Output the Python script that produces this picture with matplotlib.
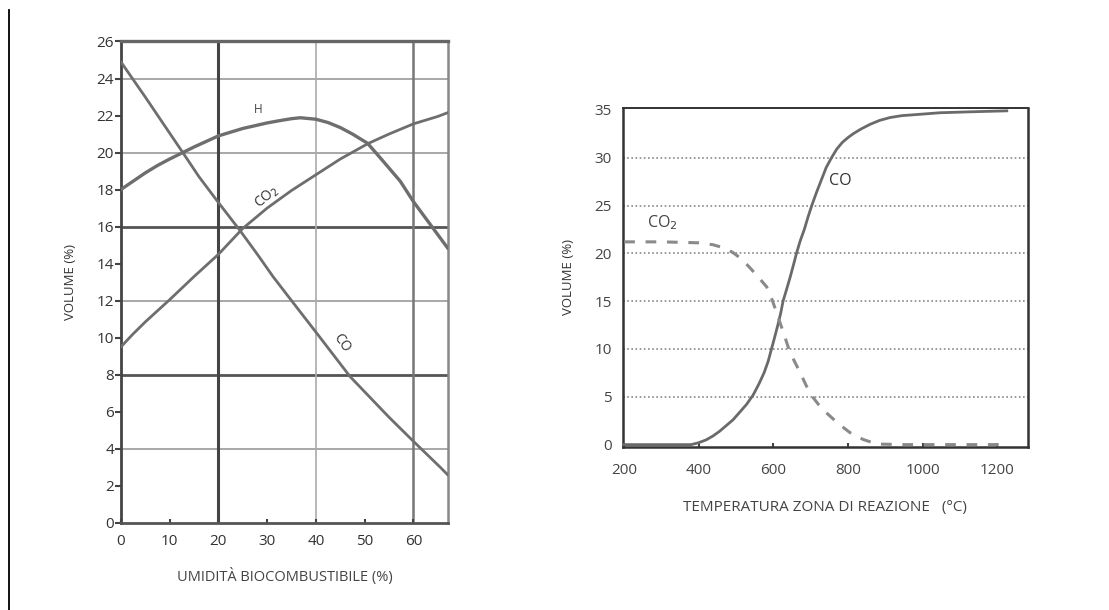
import matplotlib
matplotlib.use('Agg')
import matplotlib.pyplot as plt
from matplotlib.lines import Line2D

plt.rcParams['font.family'] = ['Open Sans', 'DejaVu Sans']

# Left chart: gas volume vs biofuel moisture
moist_H = [0, 2.5, 5, 7.5, 10, 12.7, 15, 17.5, 20, 22.5, 25, 27.5, 30, 32.5, 35, 36.8,
           40, 42.5, 45, 47.5, 50.6, 53.9, 57.3, 60, 63.5, 67]
vol_H = [18.0, 18.45, 18.9, 19.3, 19.65, 20.0, 20.3, 20.6, 20.9, 21.1, 21.3, 21.45, 21.6,
         21.72, 21.83, 21.88, 21.8, 21.62, 21.35, 21.0, 20.5, 19.5, 18.45, 17.35, 16.1, 14.85]

moist_CO = [0, 5, 10, 12.7, 16, 20, 24.4, 28, 31.2, 35, 40, 43.5, 47, 51, 55, 60, 65.5, 67]
vol_CO = [24.9, 23.0, 21.05, 20.0, 18.7, 17.3, 15.8, 14.5, 13.3, 12.0, 10.3, 9.1, 7.9,
          6.8, 5.7, 4.4, 3.0, 2.6]

moist_CO2 = [0, 2.5, 5, 7.5, 10, 15, 20, 25, 30, 35, 40, 45, 50.8, 55, 60, 65, 67]
vol_CO2 = [9.5, 10.2, 10.85, 11.45, 12.05, 13.3, 14.5, 15.9, 17.0, 17.95, 18.8, 19.65,
           20.5, 21.0, 21.55, 21.95, 22.15]

left_yticks = list(range(0, 27, 2))
left_xticks = [0, 10, 20, 30, 40, 50, 60]

# Right chart: gas volume vs reaction zone temperature
temp_CO = [200, 300, 380, 400, 420, 438, 456, 474, 492, 510, 528, 546, 562, 575, 586,
           595, 604, 612, 620, 626, 636, 645, 654, 662, 672, 683, 693, 703, 716, 730,
           742, 756, 770, 785, 800, 814, 835, 860, 885, 913, 945, 980, 1047, 1130, 1226]
vol_CO_t = [0, 0, 0, 0.2, 0.5, 0.9, 1.4, 2.0, 2.6, 3.4, 4.2, 5.2, 6.4, 7.5, 8.7,
            10.0, 11.3, 12.5, 13.8, 15.0, 16.3, 17.5, 18.8, 20.0, 21.3, 22.5, 23.8, 25.0,
            26.4, 27.8, 29.0, 30.0, 30.9, 31.6, 32.1, 32.5, 33.0, 33.5, 33.9, 34.2, 34.4,
            34.5, 34.7, 34.8, 34.9]

temp_CO2 = [200, 300, 400, 438, 465, 491, 515, 537, 560, 582, 598, 613, 628, 644, 658,
            671, 689, 707, 725, 743, 774, 805, 840, 877, 950, 1050, 1226]
vol_CO2_t = [21.2, 21.2, 21.1, 20.9, 20.6, 20.1, 19.4, 18.5, 17.5, 16.5, 15.0, 13.3,
             11.6, 9.7, 8.6, 7.6, 6.1, 4.9, 4.0, 3.3, 2.2, 1.27, 0.55, 0.06, 0.0, 0.0, 0.0]

right_yticks = [0, 5, 10, 15, 20, 25, 30, 35]
right_xticks = [200, 400, 600, 800, 1000, 1200]

fig = plt.figure(figsize=(11.09, 6.10), dpi=100)

# thin frame line on the left of the page
fig.add_artist(Line2D([0.008, 0.008], [0.0, 0.984], color='black', lw=1.3))

# ---------------- left chart
ax1 = fig.add_axes([0.109, 0.143, 0.295, 0.789])
ax1.set_xlim(0, 67.1)
ax1.set_ylim(0, 26)

for y in [4, 12, 20, 24]:
    ax1.axhline(y, color='#9a9a9a', lw=1.2, zorder=1)
for y in [8, 16]:
    ax1.axhline(y, color='#555555', lw=2.0, zorder=1)
ax1.axvline(20, color='#444444', lw=2.2, zorder=1)
ax1.axvline(40, color='#aaaaaa', lw=1.2, zorder=1)
ax1.axvline(60, color='#777777', lw=1.8, zorder=1)

curve_col = '#6e6e6e'
ax1.plot(moist_H, vol_H, color=curve_col, lw=2.4, zorder=3)
ax1.plot(moist_CO, vol_CO, color=curve_col, lw=2.0, zorder=3)
ax1.plot(moist_CO2, vol_CO2, color=curve_col, lw=2.0, zorder=3)

ax1.text(28.1, 22.35, 'H', fontsize=8.5, color='#444444', ha='center', va='center')
ax1.text(30.0, 17.6, 'CO$_2$', fontsize=10, color='#333333', ha='center', va='center', rotation=40)
ax1.text(45.2, 9.7, 'CO', fontsize=10, color='#333333', ha='center', va='center', rotation=-55)

ax1.spines['left'].set_color('#444444')
ax1.spines['left'].set_linewidth(2.0)
ax1.spines['top'].set_color('#666666')
ax1.spines['top'].set_linewidth(2.4)
ax1.spines['right'].set_color('#888888')
ax1.spines['right'].set_linewidth(1.8)
ax1.spines['bottom'].set_color('#555555')
ax1.spines['bottom'].set_linewidth(2.0)

ax1.set_yticks(left_yticks)
ax1.set_xticks(left_xticks)
ax1.tick_params(axis='y', direction='out', length=4, width=1.5, color='#444444',
                labelsize=11, labelcolor='#333333', pad=1)
ax1.tick_params(axis='x', direction='in', length=3, width=1.5, color='#444444',
                labelsize=11, labelcolor='#333333', pad=8)
ax1.set_ylabel('VOLUME (%)', fontsize=9.5, color='#333333', labelpad=14)
ax1.set_xlabel('UMIDITÀ BIOCOMBUSTIBILE (%)', fontsize=10.5, color='#444444', labelpad=14)

# ---------------- right chart
ax2 = fig.add_axes([0.5615, 0.268, 0.3655, 0.555])
ax2.set_xlim(196, 1283)
ax2.set_ylim(-0.2, 35.2)

for y in right_yticks[1:-1]:
    ax2.axhline(y, color='#888888', lw=1.2, ls=(0, (1, 1.5)), zorder=1)

ax2.plot(temp_CO, vol_CO_t, color='#6a6a6a', lw=2.0, zorder=3)
ax2.plot(temp_CO2, vol_CO2_t, color='#8a8a8a', lw=2.2, ls=(0, (3.5, 3.5)), zorder=3)

ax2.text(303, 23.2, 'CO$_2$', fontsize=11.5, color='#444444', ha='center', va='center')
ax2.text(780, 27.6, 'CO', fontsize=11.5, color='#333333', ha='center', va='center')

for s in ax2.spines.values():
    s.set_color('#333333')
    s.set_linewidth(1.8)
ax2.spines['top'].set_linewidth(1.4)

ax2.set_yticks(right_yticks)
ax2.set_xticks(right_xticks)
ax2.tick_params(axis='y', length=0, labelsize=11, labelcolor='#444444', pad=8)
ax2.tick_params(axis='x', direction='in', length=3, width=1.5, color='#444444',
                labelsize=11, labelcolor='#444444', pad=12)
ax2.set_ylabel('VOLUME (%)', fontsize=9.5, color='#333333', labelpad=14)
ax2.set_xlabel('TEMPERATURA ZONA DI REAZIONE   (°C)', fontsize=11, color='#444444', labelpad=16)

fig.savefig('out.png', dpi=100, facecolor='white')
